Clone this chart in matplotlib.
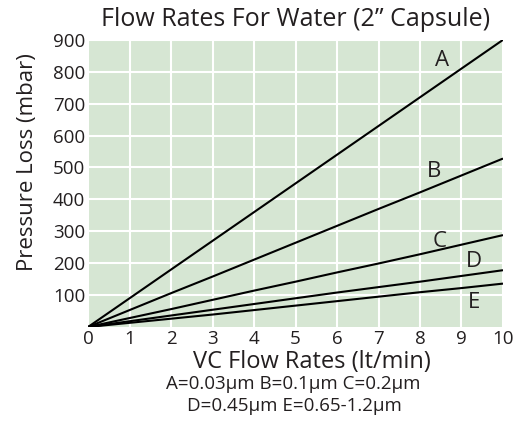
import numpy as np
import matplotlib
matplotlib.use('Agg')
import matplotlib.pyplot as plt

plt.rcParams['font.family'] = ['Open Sans', 'DejaVu Sans']

# ─── Data
#
flow = [0, 1, 2, 3, 4, 5, 6, 7, 8, 9, 10]
loss_a = [0, 90, 180, 270, 360, 450, 540, 630, 720, 810, 900]
loss_b = [0, 53, 106, 158, 211, 264, 317, 370, 422, 475, 528]
loss_c = [0, 28, 56, 85, 114, 142, 171, 199, 228, 258, 288]
loss_d = [0, 18, 36, 54, 72, 90, 108, 125, 142, 160, 178]
loss_e = [0, 13, 26, 39, 53, 67, 81, 95, 109, 122, 136]

series = {'A': loss_a, 'B': loss_b, 'C': loss_c, 'D': loss_d, 'E': loss_e}
label_pos = {'A': (8.53, 836), 'B': (8.35, 488), 'C': (8.48, 267),
             'D': (9.3, 204), 'E': (9.3, 78)}

x_ticks = list(range(0, 11))
y_ticks = [100, 200, 300, 400, 500, 600, 700, 800, 900]

BG = '#d6e6d3'
TXT = '#231f20'

fig = plt.figure(figsize=(5.18, 4.21), dpi=100)
ax = fig.add_axes([0.170, 0.2233, 0.801, 0.682])
ax.set_facecolor(BG)

for name, vals in series.items():
    ax.plot(flow, vals, color='black', lw=1.5, solid_capstyle='butt')
    lx, ly = label_pos[name]
    ax.text(lx, ly, name, fontsize=16, color=TXT, ha='center', va='center')

ax.set_xlim(0, 10)
ax.set_ylim(0, 900)
ax.set_xticks(x_ticks)
ax.set_yticks(y_ticks)
ax.grid(True, color='white', lw=1.5)
ax.set_axisbelow(True)
for s in ax.spines.values():
    s.set_visible(False)
ax.tick_params(length=0, labelsize=13.5, labelcolor=TXT, pad=2)

ax.set_title('Flow Rates For Water (2\u201d Capsule)', fontsize=18, color=TXT, pad=10)

# axis labels placed as figure text so they sit where the reference has them
fig.text(0.602, 0.140, 'VC Flow Rates (lt/min)', fontsize=17, color=TXT,
         ha='center', va='center')
fig.text(0.054, 0.615, 'Pressure Loss (mbar)', fontsize=16, color=TXT,
         ha='center', va='center', rotation=90)

fig.text(0.566, 0.088, 'A=0.03\u00b5m B=0.1\u00b5m C=0.2\u00b5m',
         fontsize=13.5, color=TXT, ha='center', va='center')
fig.text(0.568, 0.036, 'D=0.45\u00b5m E=0.65-1.2\u00b5m',
         fontsize=13.5, color=TXT, ha='center', va='center')

fig.savefig('out.png', dpi=100)
